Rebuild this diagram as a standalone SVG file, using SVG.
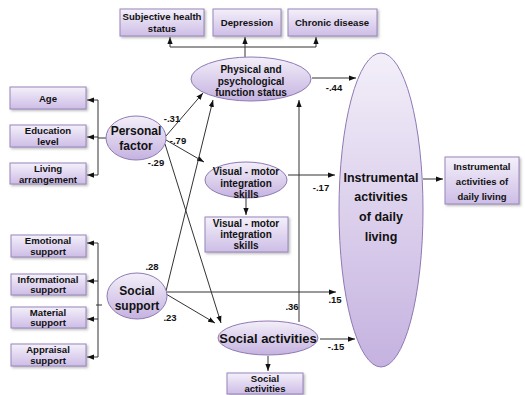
<svg xmlns="http://www.w3.org/2000/svg" width="525" height="395" viewBox="0 0 525 395">
<defs>
<linearGradient id="gb" x1="0" y1="0" x2="0" y2="1"><stop offset="0" stop-color="#f4f0fa"/><stop offset="1" stop-color="#cdbde6"/></linearGradient>
<linearGradient id="ge" x1="0" y1="0" x2="0" y2="1"><stop offset="0" stop-color="#f3eff9"/><stop offset="1" stop-color="#c5b2e0"/></linearGradient>
<filter id="sh" x="-10%" y="-10%" width="130%" height="140%"><feDropShadow dx="1.5" dy="1.5" stdDeviation="1" flood-color="#777" flood-opacity="0.5"/></filter>
<marker id="ar" viewBox="0 0 8 6" refX="8" refY="3" markerWidth="7" markerHeight="5.5" markerUnits="userSpaceOnUse" orient="auto"><path d="M0,0 L8,3 L0,6 z" fill="#111"/></marker>
</defs>
<style>
.box{fill:url(#gb);stroke:#9a86bb;stroke-width:1;filter:url(#sh)}
.ell{fill:url(#ge);stroke:#8e7ab4;stroke-width:1}
.t{font-family:"Liberation Sans",Arial,sans-serif;font-weight:bold;fill:#111;text-anchor:middle}
.s{font-size:9.6px}
.e{font-size:10px}
.c{font-size:9.5px}
.b{font-size:13px}
.p{font-size:12px}
.ln{stroke:#333;stroke-width:1;fill:none}
.a{marker-end:url(#ar)}
.lab{font-family:"Liberation Sans",Arial,sans-serif;font-weight:bold;font-size:9.5px;fill:#111;text-anchor:middle}
</style>
<rect width="525" height="395" fill="#fff"/>

<g id="connectors">
<path class="ln" d="M245,57 V47"/>
<path class="ln" d="M170,47 H316"/>
<path class="ln a" d="M170,47 V37"/>
<path class="ln a" d="M245,47 V37"/>
<path class="ln a" d="M316,47 V37"/>
<path class="ln" d="M107,138 H98 M98,100 V175"/>
<path class="ln a" d="M98,100 H87"/>
<path class="ln a" d="M98,137 H87"/>
<path class="ln a" d="M98,175 H87"/>
<path class="ln" d="M98,243 V357 M96,305 H102"/>
<path class="ln a" d="M98,243 H87"/>
<path class="ln a" d="M98,281 H87"/>
<path class="ln a" d="M98,319 H87"/>
<path class="ln a" d="M98,357 H87"/>
<path class="ln a" d="M166,136 L203,93"/>
<path class="ln a" d="M166,140 L204,162"/>
<path class="ln a" d="M165,144 L221,323"/>
<path class="ln a" d="M166,291 L213,100"/>
<path class="ln a" d="M166,292 H336"/>
<path class="ln a" d="M166,294 L215,323"/>
<path class="ln a" d="M299,322 V100"/>
<path class="ln a" d="M312,78 H356"/>
<path class="ln a" d="M288,175 H335"/>
<path class="ln a" d="M320,339 H355"/>
<path class="ln a" d="M423,179 H443"/>
<path class="ln a" d="M246,198 V215"/>
<path class="ln a" d="M268,356 V371"/>
<text class="lab" x="172" y="122">-.31</text>
<text class="lab" x="178" y="144">-.79</text>
<text class="lab" x="156" y="166">-.29</text>
<text class="lab" x="152" y="270">.28</text>
<text class="lab" x="170" y="321">.23</text>
<text class="lab" x="334" y="91">-.44</text>
<text class="lab" x="321" y="191">-.17</text>
<text class="lab" x="335" y="303">.15</text>
<text class="lab" x="292" y="310">.36</text>
<text class="lab" x="336" y="350">-.15</text>
</g>

<g id="subjective"><rect class="box" x="120" y="9" width="84" height="27"/><text class="t s" x="162" y="20">Subjective health</text><text class="t s" x="162" y="32">status</text></g>
<g id="depression"><rect class="box" x="213" y="9" width="68" height="27"/><text class="t s" x="247" y="26">Depression</text></g>
<g id="chronic"><rect class="box" x="288" y="9" width="89" height="27"/><text class="t s" x="332" y="26">Chronic disease</text></g>

<g id="physical"><ellipse class="ell" cx="251" cy="79" rx="60" ry="22"/><text class="t e" x="251" y="73">Physical  and</text><text class="t e" x="251" y="85">psychological</text><text class="t e" x="251" y="96">function  status</text></g>

<g id="age"><rect class="box" x="10" y="87" width="76" height="22"/><text class="t s" x="48" y="102">Age</text></g>
<g id="education"><rect class="box" x="10" y="125" width="76" height="22"/><text class="t s" x="48" y="134">Education</text><text class="t s" x="48" y="145">level</text></g>
<g id="living"><rect class="box" x="10" y="163" width="76" height="21"/><text class="t s" x="48" y="172">Living</text><text class="t s" x="48" y="183">arrangement</text></g>

<g id="personal"><ellipse class="ell" cx="136" cy="138" rx="30" ry="22"/><text class="t p" x="136" y="135">Personal</text><text class="t p" x="136" y="150">factor</text></g>

<g id="visual"><ellipse class="ell" cx="246" cy="180" rx="41" ry="18"/><text class="t e" x="246" y="175">Visual  -  motor</text><text class="t e" x="246" y="187">integration</text><text class="t e" x="246" y="198">skills</text></g>
<g id="visualbox"><rect class="box" x="205" y="217" width="83" height="35"/><text class="t e" x="246" y="227">Visual  -  motor</text><text class="t e" x="246" y="238">integration</text><text class="t e" x="246" y="249">skills</text></g>

<g id="iadl"><ellipse class="ell" cx="381" cy="210" rx="42" ry="157"/><text class="t" x="381" y="182" style="font-size:12.5px">Instrumental</text><text class="t" x="381" y="201" style="font-size:12.5px">activities</text><text class="t" x="381" y="221" style="font-size:12.5px">of daily</text><text class="t" x="381" y="241" style="font-size:12.5px">living</text></g>
<g id="iadlbox"><rect class="box" x="445" y="157" width="74" height="47"/><text class="t c" x="482" y="170">Instrumental</text><text class="t c" x="482" y="185">activities of</text><text class="t c" x="482" y="200">daily living</text></g>

<g id="emotional"><rect class="box" x="11" y="235" width="75" height="22"/><text class="t s" x="48" y="244">Emotional</text><text class="t s" x="48" y="255">support</text></g>
<g id="informational"><rect class="box" x="11" y="274" width="75" height="21"/><text class="t s" x="48" y="283">Informational</text><text class="t s" x="48" y="293">support</text></g>
<g id="material"><rect class="box" x="11" y="307" width="75" height="21"/><text class="t s" x="48" y="316">Material</text><text class="t s" x="48" y="326">support</text></g>
<g id="appraisal"><rect class="box" x="11" y="344" width="75" height="22"/><text class="t s" x="48" y="353">Appraisal</text><text class="t s" x="48" y="364">support</text></g>

<g id="socialsupport"><ellipse class="ell" cx="137" cy="296" rx="30" ry="23"/><text class="t p" x="137" y="295">Social</text><text class="t p" x="137" y="310">support</text></g>

<g id="socialact"><ellipse class="ell" cx="268" cy="338" rx="50" ry="17"/><text class="t b" x="268" y="343">Social  activities</text></g>
<g id="socialactbox"><rect class="box" x="227" y="373" width="76" height="21"/><text class="t s" x="265" y="382">Social</text><text class="t s" x="265" y="392">activities</text></g>
</svg>
